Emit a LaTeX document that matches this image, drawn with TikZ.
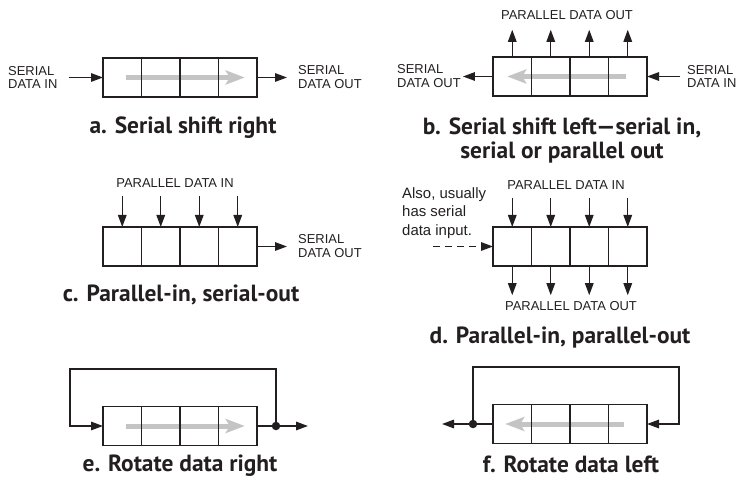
\documentclass[tikz,border=0pt]{standalone}
\usepackage{fontspec}
\setmainfont{Liberation Sans}
\newfontfamily\capfont{PT Sans}
\usetikzlibrary{arrows.meta, positioning, calc, backgrounds}
\definecolor{ink}{HTML}{231F20}
\definecolor{shiftgray}{HTML}{C4C4C4}

\begin{document}
\begin{tikzpicture}[x=1bp, y=-1bp,
  cell/.style={draw=ink, line width=1.4bp, minimum width=38.5bp,
               minimum height=39bp, inner sep=0, outer sep=0},
  lbl/.style={font=\fontsize{13}{14}\selectfont, text=ink, align=left, inner sep=0},
  note/.style={font=\fontsize{15}{18.7}\selectfont, text=ink, align=left, inner sep=0},
  caption/.style={font=\capfont\bfseries\fontsize{23.5}{25}\selectfont, text=ink,
                  align=center, inner sep=0},
  wire/.style={draw=ink, line width=1.4bp},
  arr/.style={wire, -{Triangle[length=12bp, width=8.5bp]}},
  flow/.style={draw=shiftgray, line width=5bp, -{Stealth[length=19bp, width=14bp, inset=4bp]}},
  dot/.style={circle, fill=ink, minimum size=8.5bp, inner sep=0},
]
  \useasboundingbox (0,0) rectangle (747,480);

  % the six registers, four cells each
  \foreach \r/\x/\y in {a/103/77.5, b/493/76.5, c/103/246.5, d/493/246.5, e/103/426, f/493/424}
    \foreach \i in {1,...,4}
      \node[cell] (\r\i) at ({\x+19.25+38.5*(\i-1)}, \y) {};

  % shift direction
  \begin{scope}[on background layer]
    \draw[flow] ([xshift=4bp]a1.center) -- ([xshift=7bp]a4.center);
    \draw[flow] ([xshift=-2bp]b4.center) -- ([xshift=-5bp]b1.center);
    \draw[flow] ([xshift=4bp]e1.center) -- ([xshift=7bp]e4.center);
    \draw[flow] ([xshift=-4bp]f4.center) -- ([xshift=-7bp]f1.center);
  \end{scope}

  % a
  \node[lbl, anchor=west] (ain) at (8,77.5) {SERIAL\\DATA IN};
  \node[lbl, anchor=west] (aout) at (298,77.5) {SERIAL\\DATA OUT};
  \draw[arr] ([xshift=11bp]ain.east) -- (a1.west);
  \draw[arr] (a4.east) -- ([xshift=-11bp]aout.west);
  \node[caption] (acap) at (183,128) {a. Serial shift right};

  % b
  \node[lbl, anchor=west] (bout) at (397,76.5) {SERIAL\\DATA OUT};
  \node[lbl, anchor=west] (bin) at (687,76.5) {SERIAL\\DATA IN};
  \node[lbl] (bpo) at (567,15) {PARALLEL DATA OUT};
  \draw[arr] (b1.west) -- ([xshift=2bp]bout.east);
  \draw[arr] ([xshift=-7bp]bin.west) -- (b4.east);
  \foreach \i in {1,...,4}
    \draw[arr] (b\i.north) -- ($(b\i.north |- bpo.south)+(0,10)$);
  \node[caption] (bcap) at (562,140.5) {b. Serial shift left—serial in,\\serial or parallel out};

  % c
  \node[lbl] (cpi) at (175,183) {PARALLEL DATA IN};
  \node[lbl, anchor=west] (cout) at (298,246.5) {SERIAL\\DATA OUT};
  \foreach \i in {1,...,4}
    \draw[arr] ($(c\i.north |- cpi.south)+(0,8)$) -- (c\i.north);
  \draw[arr] (c4.east) -- ([xshift=-11bp]cout.west);
  \node[caption] (ccap) at (181,295) {c. Parallel-in, serial-out};

  % d
  \node[lbl] (dpi) at (566,185) {PARALLEL DATA IN};
  \node[lbl] (dpo) at (571,306) {PARALLEL DATA OUT};
  \node[note, anchor=west] (dnote) at (402,213) {Also, usually\\has serial\\data input.};
  \coordinate (dser) at (433,246.5);
  \foreach \i in {1,...,4} {
    \draw[arr] ($(d\i.north |- dpi.south)+(0,8)$) -- (d\i.north);
    \draw[arr] (d\i.south) -- ($(d\i.south |- dpo.north)+(0,-6)$);
  }
  \draw[arr, dash pattern=on 7bp off 5bp] (dser) -- (d1.west);
  \node[caption] (dcap) at (560,338) {d. Parallel-in, parallel-out};

  % e
  \node[dot] (edot) at (276,426) {};
  \coordinate (eout) at (308,426);
  \coordinate (eloop) at (70,369);
  \draw[wire] (e4.east) -- (edot);
  \draw[arr] (edot) -- (eout);
  \draw[arr] (edot.center) -- (edot.center |- eloop) -- (eloop) |- (e1.west);
  \node[caption] (ecap) at (180,466) {e. Rotate data right};

  % f
  \node[dot] (fdot) at (473,424) {};
  \coordinate (fout) at (442,424);
  \coordinate (floop) at (679,367);
  \draw[wire] (f1.west) -- (fdot);
  \draw[arr] (fdot) -- (fout);
  \draw[arr] (fdot.center) -- (fdot.center |- floop) -- (floop) |- (f4.east);
  \node[caption] (fcap) at (571,464) {f. Rotate data left};
\end{tikzpicture}
\end{document}
